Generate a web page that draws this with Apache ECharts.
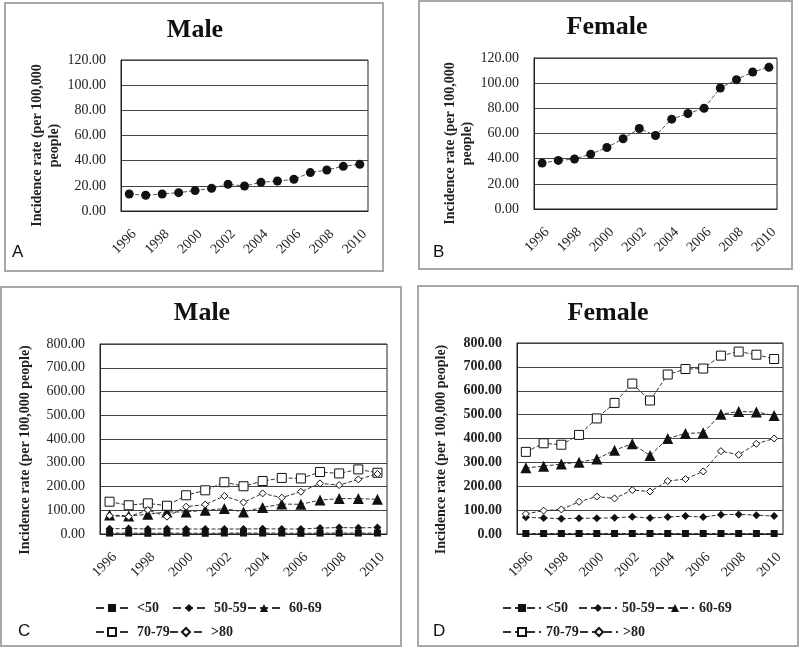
<!DOCTYPE html>
<html><head><meta charset="utf-8">
<script src="https://cdn.jsdelivr.net/npm/echarts@6/dist/echarts.min.js"></script>
<style>html,body{margin:0;padding:0;background:#fff}#c{width:800px;height:649px}</style>
</head><body><div id="c"></div>
<script>
const years = ['1996','1997','1998','1999','2000','2001','2002','2003','2004','2005','2006','2007','2008','2009','2010'];
const yTicksSmall = [0, 20, 40, 60, 80, 100, 120];
const yTicksLarge = [0, 100, 200, 300, 400, 500, 600, 700, 800];

const maleTotal   = [13.5, 12.5, 13.5, 14.6, 16.2, 18.0, 21.2, 19.9, 22.8, 23.8, 25.2, 30.5, 32.6, 35.5, 37.1];
const femaleTotal = [36.5, 38.6, 39.7, 43.6, 48.9, 55.8, 64.0, 58.4, 71.4, 75.9, 80.1, 96.2, 102.8, 108.9, 112.6];

const ageGroups = ['<50', '50-59', '60-69', '70-79', '>80'];

const maleLt50   = [4, 4, 3, 4, 4, 3, 4, 4, 4, 4, 3, 4, 4, 4, 4];
const male50_59  = [22, 23, 21, 22, 21, 21, 21, 21, 22, 21, 21, 25, 27, 26, 27];
const male60_69  = [80, 76, 83, 93, 93, 100, 107, 93, 112, 126, 125, 143, 149, 149, 146];
const male70_79  = [136, 121, 129, 119, 163, 184, 218, 201, 223, 236, 234, 261, 255, 272, 258];
const maleGt80   = [77, 73, 101, 73, 115, 124, 160, 133, 171, 153, 178, 213, 206, 230, 253];

const femaleLt50  = [2, 2, 2, 2, 2, 2, 2, 2, 2, 2, 2, 2, 2, 2, 2];
const female50_59 = [70, 67, 64, 66, 66, 68, 72, 67, 71, 75, 71, 81, 82, 79, 75];
const female60_69 = [277, 284, 293, 301, 314, 351, 378, 329, 400, 421, 424, 502, 513, 511, 496];
const female70_79 = [344, 380, 374, 415, 484, 549, 630, 559, 668, 691, 693, 747, 764, 751, 733];
const femaleGt80  = [84, 98, 103, 135, 157, 149, 184, 178, 222, 230, 262, 347, 332, 378, 400];

const SERIF = '"Liberation Serif", "Times New Roman", serif';
const SANS = '"Liberation Sans", Arial, sans-serif';

const grids = [
  {left: 121, top: 60, width: 247, height: 151},
  {left: 534, top: 58, width: 243, height: 151},
  {left: 100, top: 344, width: 287, height: 190},
  {left: 517, top: 343, width: 266, height: 191}
].map(g => Object.assign({show: true, borderColor: '#222', borderWidth: 1, backgroundColor: '#fff'}, g));

function xAxis(i) {
  return {
    type: 'category', gridIndex: i, data: years, boundaryGap: true,
    axisLine: {show: true, lineStyle: {color: '#222', width: 1}},
    axisTick: {show: false},
    axisLabel: {interval: 1, rotate: 45, margin: 16, align: 'right', verticalAlign: 'top',
      fontFamily: SERIF, fontSize: 14, color: '#222'},
    splitLine: {show: false}
  };
}
function yAxis(i, ticks, twoLine, bold, gap, pad) {
  return {
    type: 'value', gridIndex: i, min: ticks[0], max: ticks[ticks.length - 1],
    interval: ticks[1] - ticks[0],
    name: twoLine ? 'Incidence rate (per 100,000\npeople)' : 'Incidence rate (per 100,000 people)',
    nameLocation: 'middle', nameRotate: 90, nameGap: gap,
    nameTextStyle: {fontFamily: SERIF, fontSize: 14, fontWeight: 'bold', color: '#222', lineHeight: 17, padding: pad},
    axisLine: {show: true, lineStyle: {color: '#222'}},
    axisTick: {show: false},
    axisLabel: {margin: 15, fontFamily: SERIF, fontSize: 14, color: '#222', fontWeight: bold ? 'bold' : 'normal',
      formatter: v => v.toFixed(2)},
    splitLine: {show: true, lineStyle: {color: '#444', width: 1}}
  };
}

const dashed = {type: 'dashed', color: '#333', width: 1};
function totalSeries(i, data) {
  return {type: 'line', xAxisIndex: i, yAxisIndex: i, data: data, symbol: 'circle', symbolSize: 9,
    itemStyle: {color: '#111'}, lineStyle: Object.assign({}, dashed, {color: '#555'}), z: 3};
}
const ageStyles = [
  {symbol: 'rect', symbolSize: 7, itemStyle: {color: '#111'}},
  {symbol: 'diamond', symbolSize: 8, itemStyle: {color: '#111'}},
  {symbol: 'triangle', symbolSize: 11, itemStyle: {color: '#111'}},
  {symbol: 'rect', symbolSize: 9, itemStyle: {color: '#fff', borderColor: '#111', borderWidth: 1}},
  {symbol: 'diamond', symbolSize: 7, itemStyle: {color: '#fff', borderColor: '#111', borderWidth: 1}}
];
function ageSeries(i, arrs) {
  return arrs.map((d, k) => Object.assign({
    type: 'line', name: ageGroups[k], xAxisIndex: i, yAxisIndex: i, data: d,
    lineStyle: Object.assign({}, dashed), z: 3 + k
  }, ageStyles[k]));
}

const series = [
  totalSeries(0, maleTotal),
  totalSeries(1, femaleTotal),
  ...ageSeries(2, [maleLt50, male50_59, male60_69, male70_79, maleGt80]),
  ...ageSeries(3, [femaleLt50, female50_59, female60_69, female70_79, femaleGt80])
];

// legends: one component per item so positions match
const legendPos = {
  C: [[90, 596], [167, 596], [242, 596], [90, 620], [164, 620]],
  D: [[497, 596], [573, 596], [650, 596], [497, 620], [574, 620]]
};
const legends = [];
['C', 'D'].forEach((p, pi) => {
  legendPos[p].forEach((pos, k) => {
    legends.push({
      data: [ageGroups[k]], left: pos[0], top: pos[1], orient: 'horizontal',
      itemWidth: p === 'C' ? 32 : 38, itemHeight: 10, itemGap: 0, selectedMode: false,
      textStyle: {fontFamily: SERIF, fontSize: 14, fontWeight: 'bold', color: '#222', padding: [0, 0, 0, p === 'C' ? 4 : 0]}
    });
  });
});

function frame(x, y, w, h) {
  return {type: 'rect', shape: {x: x, y: y, width: w, height: h}, style: {fill: null, stroke: '#a8a8a8', lineWidth: 2}, z: -1};
}
function txt(t, x, y, font, align) {
  return {type: 'text', x: x, y: y, style: {text: t, font: font, fill: '#111', textAlign: align || 'center', textVerticalAlign: 'middle'}, z: 10};
}

const chart = echarts.init(document.getElementById('c'), null, {renderer: 'canvas'});
chart.setOption({
  animation: false,
  backgroundColor: '#fff',
  grid: grids,
  xAxis: [xAxis(0), xAxis(1), xAxis(2), xAxis(3)],
  yAxis: [
    yAxis(0, yTicksSmall, true, false, 58, [0, 20, 0, 0]),
    yAxis(1, yTicksSmall, true, false, 58, [0, 20, 0, 0]),
    yAxis(2, yTicksLarge, false, false, 66, [0, 22, 0, 0]),
    yAxis(3, yTicksLarge, false, true, 67, [0, 22, 0, 0])
  ],
  legend: legends,
  series: series,
  graphic: [
    frame(5, 3, 378, 268),
    frame(419, 1, 373, 268),
    frame(1, 287, 400, 359),
    frame(418, 286, 380, 360),
    txt('Male', 195, 30, 'bold 26px ' + SERIF),
    txt('Female', 607, 27, 'bold 26px ' + SERIF),
    txt('Male', 202, 313, 'bold 26px ' + SERIF),
    txt('Female', 608, 313, 'bold 26px ' + SERIF),
    txt('A', 12, 252, '17px ' + SANS, 'left'),
    txt('B', 433, 252, '17px ' + SANS, 'left'),
    txt('C', 18, 631, '17px ' + SANS, 'left'),
    txt('D', 433, 631, '17px ' + SANS, 'left')
  ]
});
</script></body></html>
